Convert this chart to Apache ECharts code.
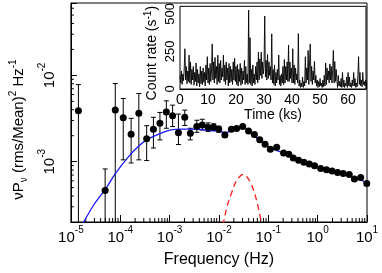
<!DOCTYPE html>
<html>
<head>
<meta charset="utf-8">
<script src="https://cdn.jsdelivr.net/npm/echarts@6/dist/echarts.min.js"></script>
<style>html,body{margin:0;padding:0;background:#fff}#c{width:382px;height:273px}</style>
</head>
<body>
<div id="c"></div>
<script>
// ---- Power spectrum data (frequency in Hz, nuP_nu in (rms/mean)^2) ----
const psdFreq = [1.42e-5, 4.94e-5, 7.93e-5, 1.15e-4, 1.66e-4, 2.38e-4, 3.43e-4, 4.70e-4, 6.37e-4, 8.59e-4,
  1.15e-3, 1.51e-3, 2.03e-3, 2.63e-3, 3.56e-3, 4.59e-3, 6.03e-3, 7.80e-3, 9.91e-3, 1.32e-2,
  1.79e-2, 2.28e-2, 3.03e-2, 3.98e-2, 5.22e-2, 6.70e-2, 8.61e-2, 0.110, 0.148, 0.204,
  0.261, 0.320, 0.410, 0.527, 0.676, 0.867, 1.15, 1.51, 1.96, 2.54,
  3.30, 4.37, 5.56, 7.45, 9.89];
const psdPower = [3.89e-3, 4.65e-4, 3.96e-3, 3.23e-3, 2.08e-3, 3.63e-3, 1.84e-3, 2.38e-3, 2.79e-3, 3.76e-3,
  3.40e-3, 2.17e-3, 3.27e-3, 2.13e-3, 2.55e-3, 2.66e-3, 2.51e-3, 2.51e-3, 2.39e-3, 2.04e-3,
  2.38e-3, 2.42e-3, 2.55e-3, 2.27e-3, 2.07e-3, 1.79e-3, 1.59e-3, 1.39e-3, 1.47e-3, 1.26e-3,
  1.22e-3, 1.10e-3, 1.04e-3, 9.82e-4, 9.42e-4, 8.99e-4, 8.32e-4, 8.09e-4, 7.78e-4, 7.48e-4,
  7.28e-4, 7.10e-4, 6.32e-4, 6.55e-4, 5.58e-4];
// error bar limits for the first points (1e-5 = extends below the axis)
const psdErrLow = [1e-5, 1e-5, 1e-5, 1.05e-3, 9.66e-4, 1.05e-3, 1.03e-3, 1.44e-3, 1.79e-3, 2.44e-3,
  2.55e-3, 1.58e-3, 2.63e-3, 1.79e-3, 2.19e-3, 2.33e-3, 2.24e-3, 2.29e-3, 2.19e-3];
const psdErrHigh = [7.82e-3, 8.24e-4, 8.04e-3, 5.40e-3, 3.18e-3, 6.17e-3, 2.61e-3, 3.27e-3, 3.72e-3, 5.07e-3,
  4.52e-3, 3.56e-3, 3.96e-3, 2.44e-3, 3.02e-3, 3.10e-3, 2.82e-3, 2.75e-3, 2.57e-3];

// ---- Best-fit model (blue) ----
const modelFreq = [1.74e-5, 2.96e-5, 4.94e-5, 8.15e-5, 1.49e-4, 2.28e-4, 3.43e-4, 6.76e-4, 1.06e-3, 1.67e-3,
  2.63e-3, 5.19e-3, 8.93e-3, 1.34e-2, 2.02e-2, 3.03e-2, 3.98e-2, 6.56e-2, 0.108, 0.195,
  0.481, 1.19, 2.94, 10];
const modelPower = [1.91e-4, 3.21e-4, 4.76e-4, 7.41e-4, 1.15e-3, 1.49e-3, 1.79e-3, 2.14e-3, 2.33e-3, 2.39e-3,
  2.38e-3, 2.33e-3, 2.27e-3, 2.18e-3, 2.33e-3, 2.52e-3, 2.27e-3, 1.77e-3, 1.45e-3, 1.27e-3,
  1.01e-3, 8.41e-4, 7.38e-4, 5.74e-4];

// ---- QPO Lorentzian component (red dashed) ----
const qpoFreq = [1.12e-2, 1.41e-2, 1.76e-2, 2.21e-2, 2.65e-2, 3.03e-2, 3.63e-2, 4.55e-2, 5.71e-2, 7.16e-2, 7.59e-2];
const qpoPower = [1.41e-4, 2.81e-4, 4.18e-4, 5.89e-4, 6.73e-4, 7.10e-4, 6.73e-4, 5.44e-4, 3.66e-4, 2.04e-4, 1.58e-4];

// ---- Inset light curve: count rate (s^-1), 0.25 ks bins ----
const lcBinKs = 0.25;
const lcRate = [
  90, 40, 120, 30, 100, 55, 130, 268,
  60, 150, 35, 120, 50, 225, 40, 180,
  30, 130, 60, 150, 25, 110, 50, 173,
  20, 130, 40, 100, 15, 150, 35, 120,
  30, 140, 45, 110, 20, 160, 60, 215,
  40, 140, 30, 170, 50, 120, 300, 60,
  180, 40, 210, 70, 150, 30, 225, 50,
  170, 40, 190, 60, 140, 80, 225, 50,
  160, 30, 180, 60, 140, 20, 170, 40,
  150, 50, 130, 30, 180, 60, 204, 50,
  150, 30, 162, 20, 130, 50, 170, 25,
  140, 35, 120, 60, 190, 30, 150, 40,
  100, 30, 525, 40, 342, 30, 130, 20,
  160, 40, 100, 30, 150, 60, 180, 40,
  245, 60, 200, 90, 245, 70, 180, 100,
  160, 485, 80, 190, 60, 230, 70, 180,
  90, 150, 60, 367, 40, 130, 30, 160,
  20, 110, 40, 130, 60, 226, 30, 90,
  20, 100, 40, 150, 30, 196, 40, 150,
  60, 180, 50, 293, 50, 180, 70, 140,
  40, 268, 40, 160, 30, 140, 60, 100,
  40, 369, 20, 60, 10, 40, 15, 80,
  10, 50, 20, 215, 40, 140, 60, 257,
  30, 180, 300, 50, 150, 30, 120, 60,
  183, 40, 90, 20, 60, 10, 50, 15,
  70, 20, 40, 10, 60, 15, 90, 20,
  173, 30, 140, 60, 120, 40, 167, 60,
  150, 40, 120, 257, 40, 183, 50, 130,
  60, 10, 90, 20, 50, 15, 70, 10,
  110, 15, 60, 10, 40, 20, 80, 10,
  110, 20, 80, 15, 40, 10, 60, 20,
  110, 20, 70, 10, 40, 15, 90, 215,
  30, 110, 20, 60, 15, 110, 30, 50,
  20, 60, 15, 45, 20
];

// ---- Axis ranges / ticks ----
const freqMin = 1e-5, freqMax = 10;
const powMin = 2e-4, powMax = 0.069;
const timeMin = 0, timeMax = 66.4, timeTick = 10;
const rateMin = 0, rateMax = 550, rateTick = 250;
// minor (log) tick values
const freqMinorTicks = [];
[1e-5, 1e-4, 1e-3, 1e-2, 1e-1, 1].forEach(d => [2, 3, 4, 5, 6, 7, 8, 9].forEach(m => freqMinorTicks.push(m * d)));
const powMinorTicks = [3e-4, 4e-4, 5e-4, 6e-4, 7e-4, 8e-4, 9e-4,
  2e-3, 3e-3, 4e-3, 5e-3, 6e-3, 7e-3, 8e-3, 9e-3,
  2e-2, 3e-2, 4e-2, 5e-2, 6e-2];

const FONT = 'Liberation Sans, Arial, Helvetica, sans-serif';
const pts = psdFreq.map((f, i) => [f, psdPower[i]]);
const errs = psdErrLow.map((lo, i) => [psdFreq[i], lo, psdErrHigh[i]]);
const model = modelFreq.map((f, i) => [f, modelPower[i]]);
const qpo = qpoFreq.map((f, i) => [f, qpoPower[i]]);
const lc = lcRate.map((r, i) => [i * lcBinKs, r]);

function expLabel(v) {
  const e = Math.log10(v);
  const r = Math.round(e);
  if (Math.abs(e - r) > 0.01) return '';
  return '{b|10}{sup|' + (r < 0 ? '-' + (-r) : r) + '}';
}
const richExp = {
  b: { fontSize: 15, fontFamily: FONT, color: '#000', lineHeight: 20, verticalAlign: 'bottom' },
  sup: { fontSize: 10, fontFamily: FONT, color: '#000', lineHeight: 20, verticalAlign: 'top' }
};
const tickStyle = { stroke: '#000', lineWidth: 1 };

const chart = echarts.init(document.getElementById('c'), null, { renderer: 'canvas' });
chart.setOption({
  animation: false,
  backgroundColor: '#fff',
  grid: [
    { left: 62, top: 2, width: 305, height: 221, show: true, borderColor: '#000', borderWidth: 1, backgroundColor: 'transparent' },
    { left: 180, top: 2, width: 186, height: 87, show: true, borderColor: '#000', borderWidth: 1, backgroundColor: '#fff', z: 3 }
  ],
  xAxis: [
    {
      type: 'log', logBase: 10, gridIndex: 0, min: freqMin, max: freqMax,
      axisLine: { show: true, lineStyle: { color: '#000', width: 1 } },
      axisTick: { show: true, inside: true, length: 7, lineStyle: { color: '#000' } },
      minorTick: { show: false },
      splitLine: { show: false }, minorSplitLine: { show: false },
      axisLabel: { formatter: expLabel, margin: 3, rich: richExp, color: '#000' },
      name: 'Frequency (Hz)', nameLocation: 'middle', nameGap: 30,
      nameTextStyle: { fontSize: 16, fontFamily: FONT, color: '#000' }
    },
    {
      type: 'value', gridIndex: 1, min: timeMin, max: timeMax, interval: timeTick,
      axisLine: { show: true, lineStyle: { color: '#000', width: 1 } },
      axisTick: { show: true, inside: true, length: 4, lineStyle: { color: '#000' } },
      splitLine: { show: false },
      axisLabel: {
        fontSize: 14, fontFamily: FONT, color: '#000', margin: 4,
        formatter: v => (Math.abs(v % timeTick) < 1e-6 ? String(v) : '')
      },
      name: 'Time (ks)', nameLocation: 'middle', nameGap: 17,
      nameTextStyle: { fontSize: 14, fontFamily: FONT, color: '#000' }
    }
  ],
  yAxis: [
    {
      type: 'log', logBase: 10, gridIndex: 0, min: powMin, max: powMax,
      axisLine: { show: true, lineStyle: { color: '#000', width: 1 } },
      axisTick: { show: true, inside: true, length: 6, lineStyle: { color: '#000' } },
      minorTick: { show: false },
      splitLine: { show: false }, minorSplitLine: { show: false },
      axisLabel: { formatter: expLabel, rotate: 90, margin: 14, rich: richExp, color: '#000' },
      name: '\u03bdP{sub|\u03bd} (rms/Mean){sup|2} Hz{sup|-1}', nameLocation: 'middle', nameGap: 36,
      nameTextStyle: {
        fontSize: 15, fontFamily: FONT, color: '#000', padding: [0, 34, 0, 0],
        rich: {
          sub: { fontSize: 10, fontFamily: FONT, verticalAlign: 'bottom', lineHeight: 21 },
          sup: { fontSize: 10, fontFamily: FONT, verticalAlign: 'top', lineHeight: 21 }
        }
      }
    },
    {
      type: 'value', gridIndex: 1, min: rateMin, max: rateMax, interval: rateTick,
      axisLine: { show: true, lineStyle: { color: '#000', width: 1 } },
      axisTick: { show: true, inside: true, length: 4, lineStyle: { color: '#000' } },
      splitLine: { show: false },
      axisLabel: {
        fontSize: 13, fontFamily: FONT, color: '#000', margin: 3, rotate: 90,
        formatter: v => (Math.abs(v % rateTick) < 1e-6 ? String(v) : '')
      },
      name: 'Count rate (s{sup|-1})', nameLocation: 'middle', nameGap: 19,
      nameTextStyle: {
        fontSize: 14, fontFamily: FONT, color: '#000', padding: [0, 11, 0, 0],
        rich: { sup: { fontSize: 10, fontFamily: FONT, verticalAlign: 'top', lineHeight: 18 } }
      }
    }
  ],
  series: [
    {
      // minor ticks on the frequency axis (log spaced, pointing inwards)
      type: 'custom', xAxisIndex: 0, yAxisIndex: 0, z: 2, silent: true,
      data: freqMinorTicks.map(v => [v, powMin]),
      renderItem: function (params, api) {
        const p = api.coord([api.value(0), api.value(1)]);
        const cs = params.coordSys;
        const yb = cs.y + cs.height;
        return { type: 'line', shape: { x1: p[0], y1: yb, x2: p[0], y2: yb - 4 }, style: tickStyle };
      }
    },
    {
      // minor ticks on the power axis
      type: 'custom', xAxisIndex: 0, yAxisIndex: 0, z: 2, silent: true,
      data: powMinorTicks.map(v => [freqMin, v]),
      renderItem: function (params, api) {
        const p = api.coord([api.value(0), api.value(1)]);
        const cs = params.coordSys;
        return { type: 'line', shape: { x1: cs.x, y1: p[1], x2: cs.x + 3, y2: p[1] }, style: tickStyle };
      }
    },
    {
      type: 'custom', xAxisIndex: 0, yAxisIndex: 0, z: 3,
      data: errs,
      encode: { x: 0, y: [1, 2] },
      renderItem: function (params, api) {
        const f = api.value(0), lo = api.value(1), hi = api.value(2);
        const top = api.coord([f, hi]);
        let bot = api.coord([f, lo]);
        const cs = params.coordSys;
        const yMax = cs.y + cs.height;
        const clipped = bot[1] > yMax;
        if (clipped) bot = [bot[0], yMax];
        const w = 2.5;
        const ch = [
          { type: 'line', shape: { x1: top[0], y1: top[1], x2: bot[0], y2: bot[1] }, style: tickStyle },
          { type: 'line', shape: { x1: top[0] - w, y1: top[1], x2: top[0] + w, y2: top[1] }, style: tickStyle }
        ];
        if (!clipped) ch.push({ type: 'line', shape: { x1: bot[0] - w, y1: bot[1], x2: bot[0] + w, y2: bot[1] }, style: tickStyle });
        return { type: 'group', children: ch };
      }
    },
    {
      type: 'line', xAxisIndex: 0, yAxisIndex: 0, data: model, smooth: 0.3, showSymbol: false, z: 4,
      lineStyle: { color: '#1a1aff', width: 1.3 }, clip: true
    },
    {
      type: 'line', xAxisIndex: 0, yAxisIndex: 0, data: qpo, smooth: 0.4, showSymbol: false, z: 4,
      lineStyle: { color: '#ff1a1a', width: 1.3, type: [6, 4] }, clip: true
    },
    {
      type: 'scatter', xAxisIndex: 0, yAxisIndex: 0, data: pts, symbol: 'circle', symbolSize: 7, z: 5,
      itemStyle: { color: '#000', opacity: 1 }
    },
    {
      type: 'line', xAxisIndex: 1, yAxisIndex: 1, data: lc, showSymbol: false, z: 6,
      lineStyle: { color: '#000', width: 0.9 }, clip: true
    }
  ]
});
</script>
</body>
</html>
